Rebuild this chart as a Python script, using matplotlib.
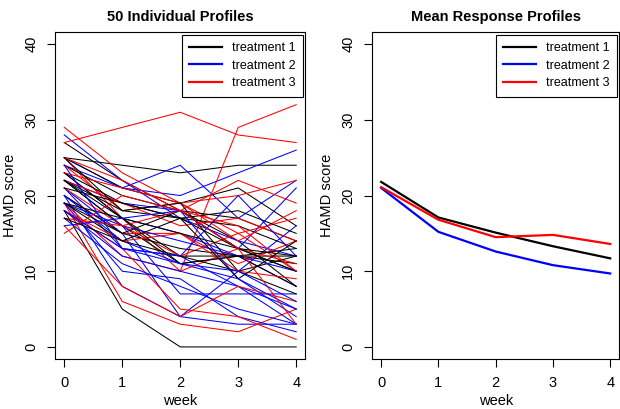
import matplotlib
matplotlib.use('Agg')
import matplotlib.pyplot as plt
import numpy as np

plt.rcParams['font.family'] = ['Liberation Sans', 'DejaVu Sans']

weeks = [0, 1, 2, 3, 4]

# individual HAMD profiles (approximate)
treatment1 = [
    [27, 22, 18, 14, 8],
    [25, 24, 23, 24, 24],
    [25, 21, 19, 21, 16],
    [24, 20, 18, 17, 14],
    [23, 17, 12, 12, 11],
    [23, 19, 17, 16, 13],
    [22, 18, 19, 10, 7],
    [22, 16, 11, 12, 12],
    [21, 19, 17, 18, 15],
    [20, 15, 18, 13, 10],
    [19, 14, 12, 10, 12],
    [19, 15, 13, 12, 8],
    [19, 17, 15, 13, 10],
    [18, 5, 0, 0, 0],
    [22, 17, 11, 12, 13],
    [25, 18, 17, 13, 12],
    [17, 14, 17, 9, 14],
]
treatment2 = [
    [28, 22, 17, 14, 12],
    [25, 21, 20, 23, 26],
    [24, 21, 24, 17, 22],
    [23, 17, 15, 12, 8],
    [22, 16, 7, 7, 7],
    [22, 19, 18, 13, 21],
    [21, 15, 4, 10, 16],
    [21, 13, 12, 8, 5],
    [20, 8, 4, 3, 3],
    [20, 14, 11, 9, 4],
    [19, 16, 14, 12, 10],
    [19, 10, 9, 4, 2],
    [18, 12, 10, 8, 3],
    [18, 13, 12, 20, 12],
    [17, 11, 8, 5, 3],
    [16, 17, 18, 9, 5],
    [24, 13, 11, 10, 6],
]
treatment3 = [
    [27, 29, 31, 28, 27],
    [29, 23, 19, 15, 10],
    [25, 17, 10, 29, 32],
    [25, 22, 18, 22, 19],
    [24, 18, 19, 20, 22],
    [23, 21, 19, 14, 18],
    [22, 19, 16, 17, 14],
    [21, 16, 12, 15, 17],
    [20, 15, 15, 11, 14],
    [19, 12, 10, 13, 11],
    [19, 6, 3, 2, 5],
    [18, 14, 15, 10, 9],
    [18, 13, 5, 4, 1],
    [17, 16, 18, 16, 10],
    [16, 8, 4, 8, 6],
    [15, 20, 18, 13, 3],
]

mean1 = [21.8, 17.1, 15.1, 13.3, 11.7]
mean2 = [21.0, 15.2, 12.6, 10.8, 9.7]
mean3 = [21.1, 16.8, 14.5, 14.8, 13.6]

labels = ['treatment 1', 'treatment 2', 'treatment 3']
colors = ['black', 'blue', 'red']


# R base graphics look
def r_axes(ax, title):
    ax.set_xlim(-0.16, 4.16)
    ax.set_ylim(-1.6, 41.6)
    ax.set_xticks(weeks)
    ax.set_yticks([0, 10, 20, 30, 40])
    ax.set_yticklabels(['0', '10', '20', '30', '40'], rotation=90, va='center')
    ax.tick_params(direction='out', length=6, width=0.8, labelsize=10.5, pad=6)
    for sp in ax.spines.values():
        sp.set_linewidth(0.8)
    ax.set_xlabel('week', fontsize=10.5, labelpad=3)
    ax.set_ylabel('HAMD score', fontsize=10.5, labelpad=5)
    ax.set_title(title, fontsize=10.5, fontweight='bold', pad=8)


fig = plt.figure(figsize=(6.2, 4.09), dpi=100)
ax1 = fig.add_axes([0.0887, 0.1222, 0.404, 0.7995])
ax2 = fig.add_axes([0.600, 0.1222, 0.399, 0.7995])

# interleave the groups so no colour sits on top of all others
groups = [treatment1, treatment2, treatment3]
for i in range(max(len(g) for g in groups)):
    for g, c in zip(groups, colors):
        if i < len(g):
            ax1.plot(weeks, g[i], color=c, lw=0.75)

r_axes(ax1, '50 Individual Profiles')

for m, c, lab in zip([mean1, mean2, mean3], colors, labels):
    ax2.plot(weeks, m, color=c, lw=1.6, label=lab)
r_axes(ax2, 'Mean Response Profiles')

for ax in (ax1, ax2):
    handles = [plt.Line2D([], [], color=c, lw=1.6) for c in colors]
    leg = ax.legend(handles, labels, loc='upper right', fontsize=9,
                    fancybox=False, framealpha=1, edgecolor='black',
                    borderaxespad=0.2, handlelength=2.6, labelspacing=0.45,
                    borderpad=0.6)
    leg.get_frame().set_linewidth(0.8)

fig.savefig('out.png', dpi=100)
